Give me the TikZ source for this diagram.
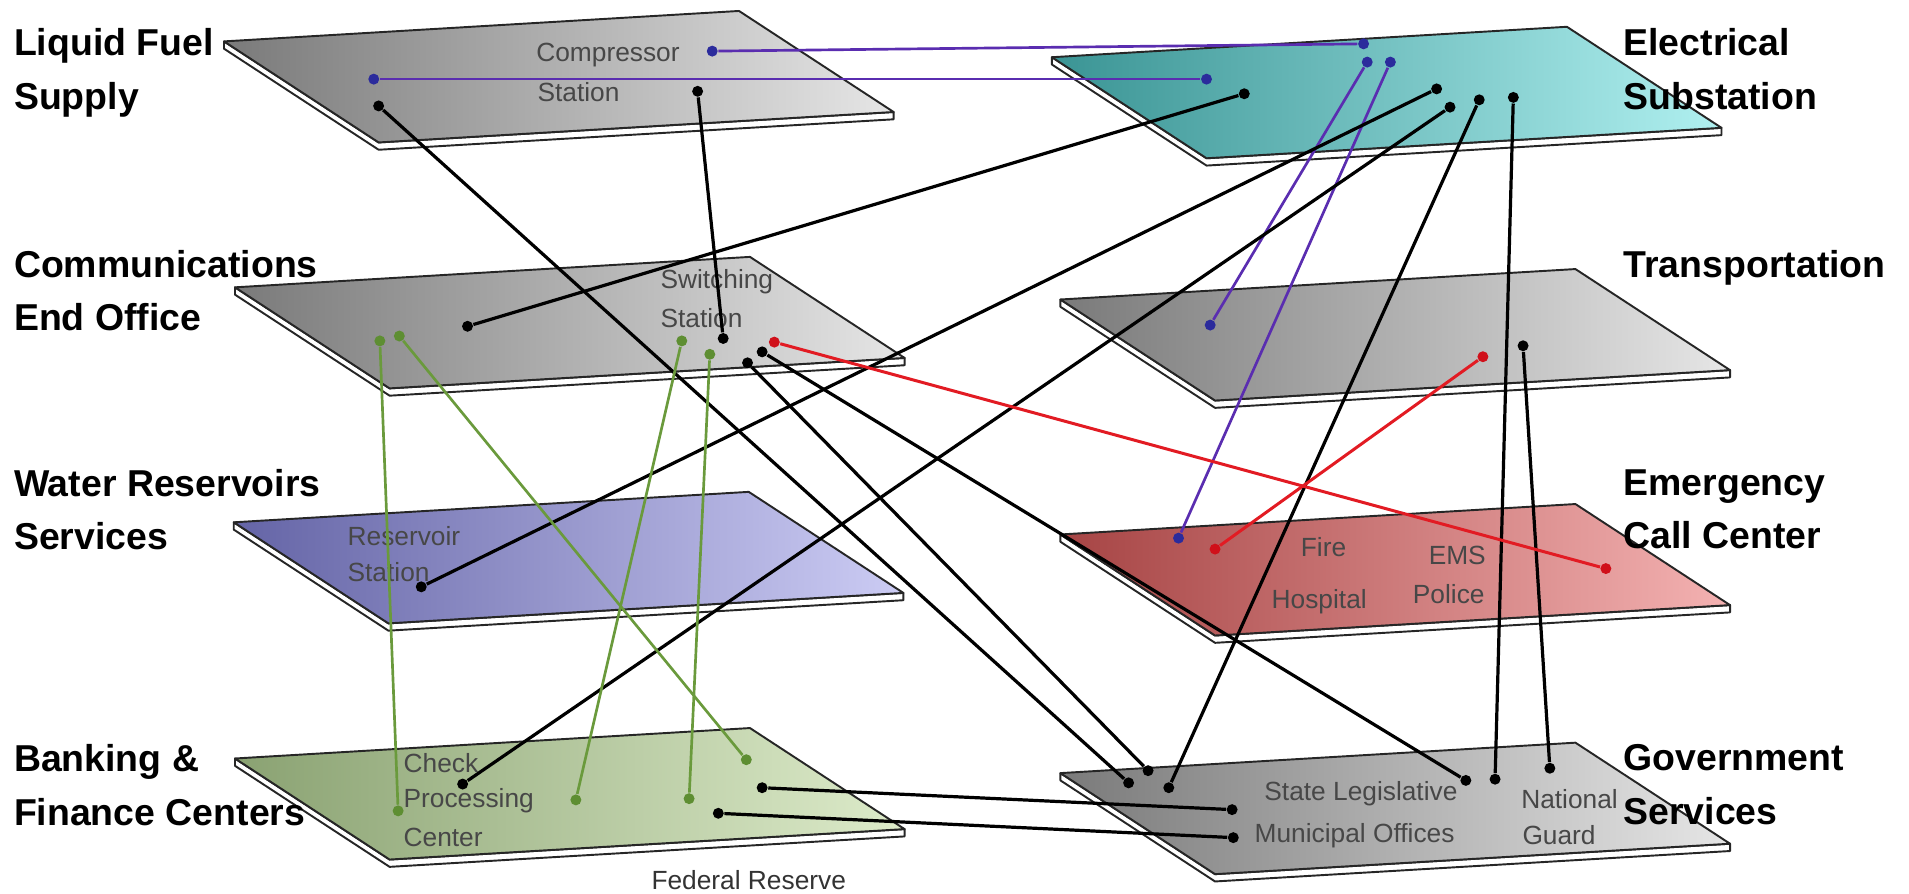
\documentclass[tikz,border=0pt]{standalone}
\usepackage{fontspec}
\setmainfont{Liberation Sans}
\usepackage{tikz}
\usetikzlibrary{positioning}
\usetikzlibrary{calc}

\definecolor{slabedge}{HTML}{262626}
\definecolor{greyA}{HTML}{7A7A7A}
\definecolor{greyB}{HTML}{E6E6E6}
\definecolor{tealA}{HTML}{3A9494}
\definecolor{tealB}{HTML}{B0F0F0}
\definecolor{waterA}{HTML}{6464A6}
\definecolor{waterB}{HTML}{CCCCF4}
\definecolor{alarmA}{HTML}{A64444}
\definecolor{alarmB}{HTML}{F4B2B2}
\definecolor{bankA}{HTML}{8AA272}
\definecolor{bankB}{HTML}{DDEBCA}
\definecolor{linkpurple}{HTML}{5A2DB0}
\definecolor{dotblue}{HTML}{2B2B9C}
\definecolor{linkgreen}{HTML}{6A9A3C}
\definecolor{dotgreen}{HTML}{5E8E32}
\definecolor{linkred}{HTML}{E21B23}
\definecolor{dotred}{HTML}{D0101A}
\definecolor{sitegray}{HTML}{474747}

\begin{document}
\begin{tikzpicture}[x=0.02cm,y=-0.02cm,semithick]
 \tikzstyle{black node}=[circle,fill=black,inner sep=0,minimum size=0.18cm]
 \tikzstyle{blue node}=[circle,fill=dotblue,inner sep=0,minimum size=0.18cm]
 \tikzstyle{green node}=[circle,fill=dotgreen,inner sep=0,minimum size=0.18cm]
 \tikzstyle{red node}=[circle,fill=dotred,inner sep=0,minimum size=0.18cm]
 \tikzset{
 	slab side/.style={fill=white,draw=slabedge,line width=0.9pt,line join=round},
 	slab top/.style={draw=slabedge,line width=0.9pt,line join=round},
 	layer label/.style={anchor=north west,align=left,inner sep=0,font=\fontsize{17.5}{25}\selectfont\bfseries},
 	site label/.style={anchor=west,inner sep=0,text=sitegray,font=\fontsize{12.3}{15}\selectfont},
 	black link/.style={draw=black,line width=1.5pt},
 	blue link/.style={draw=linkpurple,line width=1.25pt},
 	green link/.style={draw=linkgreen,line width=1.25pt},
 	red link/.style={draw=linkred,line width=1.4pt}
 }
 \useasboundingbox (0,0) rectangle (1568,734);

 % layers
 \draw[slab side] (184,34) -- ++(127,83) -- ++(423,-25) -- ++(0,6) -- ++(-423,25) -- ++(-127,-83) -- cycle;
 \draw[slab top,left color=greyA,right color=greyB] (184,34) -- ++(423,-25) -- ++(127,83) -- ++(-423,25) -- cycle;
 \draw[slab side] (864,47) -- ++(127,83) -- ++(423,-25) -- ++(0,6) -- ++(-423,25) -- ++(-127,-83) -- cycle;
 \draw[slab top,left color=tealA,right color=tealB] (864,47) -- ++(423,-25) -- ++(127,83) -- ++(-423,25) -- cycle;
 \draw[slab side] (193,236) -- ++(127,83) -- ++(423,-25) -- ++(0,6) -- ++(-423,25) -- ++(-127,-83) -- cycle;
 \draw[slab top,left color=greyA,right color=greyB] (193,236) -- ++(423,-25) -- ++(127,83) -- ++(-423,25) -- cycle;
 \draw[slab side] (871,246) -- ++(127,83) -- ++(423,-25) -- ++(0,6) -- ++(-423,25) -- ++(-127,-83) -- cycle;
 \draw[slab top,left color=greyA,right color=greyB] (871,246) -- ++(423,-25) -- ++(127,83) -- ++(-423,25) -- cycle;
 \draw[slab side] (192,429) -- ++(127,83) -- ++(423,-25) -- ++(0,6) -- ++(-423,25) -- ++(-127,-83) -- cycle;
 \draw[slab top,left color=waterA,right color=waterB] (192,429) -- ++(423,-25) -- ++(127,83) -- ++(-423,25) -- cycle;
 \draw[slab side] (871,439) -- ++(127,83) -- ++(423,-25) -- ++(0,6) -- ++(-423,25) -- ++(-127,-83) -- cycle;
 \draw[slab top,left color=alarmA,right color=alarmB] (871,439) -- ++(423,-25) -- ++(127,83) -- ++(-423,25) -- cycle;
 \draw[slab side] (193,623) -- ++(127,83) -- ++(423,-25) -- ++(0,6) -- ++(-423,25) -- ++(-127,-83) -- cycle;
 \draw[slab top,left color=bankA,right color=bankB] (193,623) -- ++(423,-25) -- ++(127,83) -- ++(-423,25) -- cycle;
 \draw[slab side] (871,635) -- ++(127,83) -- ++(423,-25) -- ++(0,6) -- ++(-423,25) -- ++(-127,-83) -- cycle;
 \draw[slab top,left color=greyA,right color=greyB] (871,635) -- ++(423,-25) -- ++(127,83) -- ++(-423,25) -- cycle;

 % layer names
 \node[layer label] (fuel) at (11,23) {Liquid Fuel\\Supply};
 \node[layer label] (comm) at (11,205) {Communications\\End Office};
 \node[layer label] (water) at (11,385) {Water Reservoirs\\Services};
 \node[layer label] (bank) at (11,611) {Banking \&\\Finance Centers};
 \node[layer label] (power) at (1333,23) {Electrical\\Substation};
 \node[layer label] (trans) at (1333,205) {Transportation};
 \node[layer label] (emerg) at (1333,385) {Emergency\\Call Center};
 \node[layer label] (gov) at (1333,611) {Government\\Services};

 % site names
 \node[site label] (compr) at (440,45) {Compressor};
 \node[site label] (comprst) at (441,76) {Station};
 \node[site label] (switch) at (542,231) {Switching};
 \node[site label] (switchst) at (542,261) {Station};
 \node[site label] (resv) at (285,440) {Reservoir};
 \node[site label] (resvst) at (285,470) {Station};
 \node[site label] (check) at (331,627) {Check};
 \node[site label] (proc) at (331,658) {Processing};
 \node[site label] (cent) at (331,688) {Center};
 \node[site label] (fire) at (1068,449) {Fire};
 \node[site label] (ems) at (1173,456) {EMS};
 \node[site label] (hosp) at (1044,494) {Hospital};
 \node[site label] (police) at (1160,488) {Police};
 \node[site label] (state) at (1038,652) {State Legislative};
 \node[site label] (munic) at (1030,686) {Municipal Offices};
 \node[site label] (natl) at (1249,656) {National};
 \node[site label] (guard) at (1250,686) {Guard};
 \node[site label,text=black!80,anchor=center] (fed) at (615,723) {Federal Reserve};

 % fuel dots
 \node[blue node] (lfc) at (585,42) {};
 \node[blue node] (lfb) at (307,65) {};
 \node[black node] (lfk) at (311,87) {};
 \node[black node] (lfs) at (573,75) {};
 % power dots
 \node[blue node] (esb1) at (1120,36) {};
 \node[blue node] (esb2) at (1123,51) {};
 \node[blue node] (esb3) at (1142,51) {};
 \node[blue node] (esb4) at (991,65) {};
 \node[black node] (esk1) at (1022,77) {};
 \node[black node] (esk2) at (1180,73) {};
 \node[black node] (esk3) at (1191,88) {};
 \node[black node] (esk4) at (1215,82) {};
 \node[black node] (esk5) at (1243,80) {};
 % comm dots
 \node[black node] (cok) at (384,268) {};
 \node[green node] (cog1) at (312,280) {};
 \node[green node] (cog2) at (328,276) {};
 \node[green node] (cog3) at (560,280) {};
 \node[green node] (cog4) at (583,291) {};
 \node[black node] (cos) at (594,278) {};
 \node[black node] (cok2) at (626,289) {};
 \node[black node] (cok3) at (614,298) {};
 \node[red node] (cor) at (636,281) {};
 % transport dots
 \node[blue node] (trb) at (994,267) {};
 \node[red node] (trr) at (1218,293) {};
 \node[black node] (trk) at (1251,284) {};
 % water dot
 \node[black node] (wrk) at (346,482) {};
 % emergency dots
 \node[blue node] (ecb) at (968,442) {};
 \node[red node] (ecr1) at (998,451) {};
 \node[red node] (ecr2) at (1319,467) {};
 % bank dots
 \node[black node] (bfk) at (380,644) {};
 \node[green node] (bfg1) at (327,666) {};
 \node[green node] (bfg2) at (473,657) {};
 \node[green node] (bfg3) at (566,656) {};
 \node[green node] (bfg4) at (613,624) {};
 \node[black node] (bfk2) at (626,647) {};
 \node[black node] (bfk3) at (590,668) {};
 % government dots
 \node[black node] (gsk1) at (927,643) {};
 \node[black node] (gsk2) at (943,633) {};
 \node[black node] (gsk3) at (960,647) {};
 \node[black node] (gsk4) at (1204,641) {};
 \node[black node] (gsk5) at (1228,640) {};
 \node[black node] (gsk6) at (1273,631) {};
 \node[black node] (gsk7) at (1012,665) {};
 \node[black node] (gsk8) at (1013,688) {};

 % links
 \path (lfc) edge[blue link] (esb1);
 \path (lfb) edge[blue link] (esb4);
 \path (esb2) edge[blue link] (trb);
 \path (esb3) edge[blue link] (ecb);

 \path (lfk) edge[black link] (gsk1);
 \path (lfs) edge[black link] (cos);
 \path (cok) edge[black link] (esk1);
 \path (wrk) edge[black link] (esk2);
 \path (bfk) edge[black link] (esk3);
 \path (esk4) edge[black link] (gsk3);
 \path (esk5) edge[black link] (gsk5);
 \path (trk) edge[black link] (gsk6);
 \path (cok3) edge[black link] (gsk2);
 \path (cok2) edge[black link] (gsk4);
 \path (bfk2) edge[black link] (gsk7);
 \path (bfk3) edge[black link] (gsk8);

 \path (cor) edge[red link] (ecr2);
 \path (trr) edge[red link] (ecr1);

 \path (cog1) edge[green link] (bfg1);
 \path (cog2) edge[green link] (bfg4);
 \path (cog3) edge[green link] (bfg2);
 \path (cog4) edge[green link] (bfg3);
\end{tikzpicture}
\end{document}
